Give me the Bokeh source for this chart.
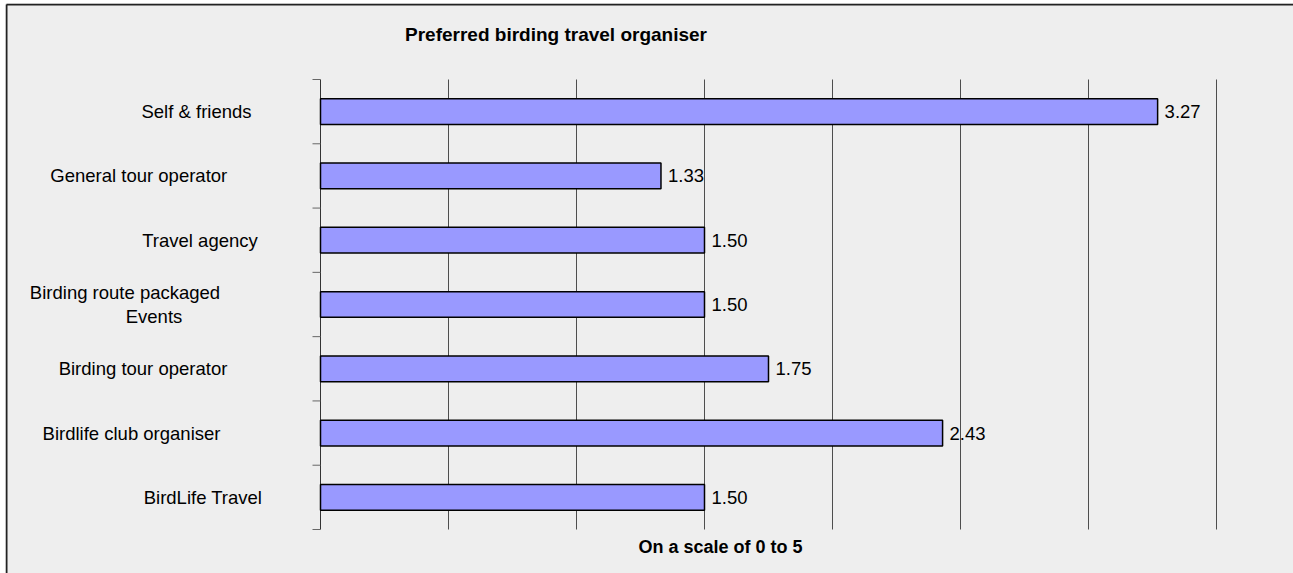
from bokeh.plotting import figure
from bokeh.models import ColumnDataSource, Range1d, Label, LabelSet
from bokeh.core.properties import value
from bokeh.embed import file_html
from bokeh.resources import INLINE

# ---- data ----
categories = ["Self & friends", "General tour operator", "Travel agency",
              "Birding route packaged\nEvents", "Birding tour operator",
              "Birdlife club organiser", "BirdLife Travel"]
values = [3.27, 1.33, 1.50, 1.50, 1.75, 2.43, 1.50]
title_text = "Preferred birding travel organiser"
x_label_text = "On a scale of 0 to 5"
grid_ticks = [0.5, 1.0, 1.5, 2.0, 2.5, 3.0, 3.5]

# ---- layout constants (page pixels) ----
FONT = "Liberation Sans"
FS = "18.5px"
CANVAS_X, CANVAS_Y, CANVAS_W, CANVAS_H = 5, 3, 1288, 570
PX_ZERO, PX_PER_UNIT = 320, 256.0          # x pixel of value 0, pixels per unit
PY_BOTTOM, PY_PER_CAT = 529, 450.0 / 7     # y pixel of plot bottom, pixels per category
# horizontal centre of each category label (page px)
label_centers = [196, 138.3, 199.5, (124.5, 153.5), 142.5, 131, 202.5]
TITLE_POS = (555.5, 34)
XLABEL_POS = (720, 546)


def px2x(px):
    return (px - PX_ZERO) / PX_PER_UNIT


def py2y(py):
    return (PY_BOTTOM - py) / PY_PER_CAT


n = len(categories)
ypos = [n - 0.5 - i for i in range(n)]
src = ColumnDataSource(dict(y=ypos, value=values,
                            label=[f"{v:.2f}" for v in values]))

x0, x1 = px2x(CANVAS_X), px2x(CANVAS_X + CANVAS_W)
y0, y1 = py2y(CANVAS_Y + CANVAS_H), py2y(CANVAS_Y)
p = figure(width=CANVAS_W, height=CANVAS_H, output_backend="svg", toolbar_location=None,
           x_range=Range1d(x0, x1), y_range=Range1d(y0, y1),
           min_border=0,
           background_fill_color="#EEEEEE", border_fill_color="#EEEEEE",
           outline_line_color=None,
           margin=(CANVAS_Y, 0, 0, CANVAS_X))

p.xaxis.visible = False
p.yaxis.visible = False
p.xgrid.visible = False
p.ygrid.visible = False

# chart-area border (left and top edges)
bx, by = px2x(CANVAS_X + 1), py2y(CANVAS_Y + 1)
p.segment(x0=[bx, bx], y0=[y0, by], x1=[bx, x1], y1=[by, by],
          line_color="#222222", line_width=2)

# vertical gridlines
p.segment(x0=grid_ticks, y0=[0] * len(grid_ticks), x1=grid_ticks, y1=[n] * len(grid_ticks),
          line_color="#4d4d4d", line_width=1)
# category axis line and boundary ticks
p.segment(x0=[0], y0=[0], x1=[0], y1=[n], line_color="#333333", line_width=1)
p.ray(x=[0] * (n + 1), y=list(range(n + 1)), length=8, length_units="screen",
      angle=180, angle_units="deg", line_color="#666666", line_width=1)

# bars
p.hbar(y="y", left=0, right="value", height=0.4, source=src,
       fill_color="#9999FF", line_color="black", line_width=1.5)

# value labels
p.add_layout(LabelSet(x="value", y="y", text="label", source=src, x_offset=7,
                      text_baseline="middle", text_font=value(FONT),
                      text_font_size=value(FS), text_color="black"))

# category labels
for cat, y, cx in zip(categories, ypos, label_centers):
    lines = cat.split("\n")
    if len(lines) == 1:
        p.add_layout(Label(x=px2x(cx), y=y, text=cat,
                           text_align="center", text_baseline="middle",
                           text_font=FONT, text_font_size=FS, text_color="black"))
    else:
        for k, (ln, c) in enumerate(zip(lines, cx)):
            p.add_layout(Label(x=px2x(c), y=y, text=ln, y_offset=12 - 24 * k,
                               text_align="center", text_baseline="middle",
                               text_font=FONT, text_font_size=FS, text_color="black"))

# title and axis caption
p.add_layout(Label(x=px2x(TITLE_POS[0]), y=py2y(TITLE_POS[1]), text=title_text,
                   text_align="center", text_baseline="middle", text_color="black",
                   text_font=FONT, text_font_size="19px", text_font_style="bold"))
p.add_layout(Label(x=px2x(XLABEL_POS[0]), y=py2y(XLABEL_POS[1]), text=x_label_text,
                   text_align="center", text_baseline="middle", text_color="black",
                   text_font=FONT, text_font_size="18px", text_font_style="bold"))

open("out.html", "w").write(file_html(p, INLINE))
